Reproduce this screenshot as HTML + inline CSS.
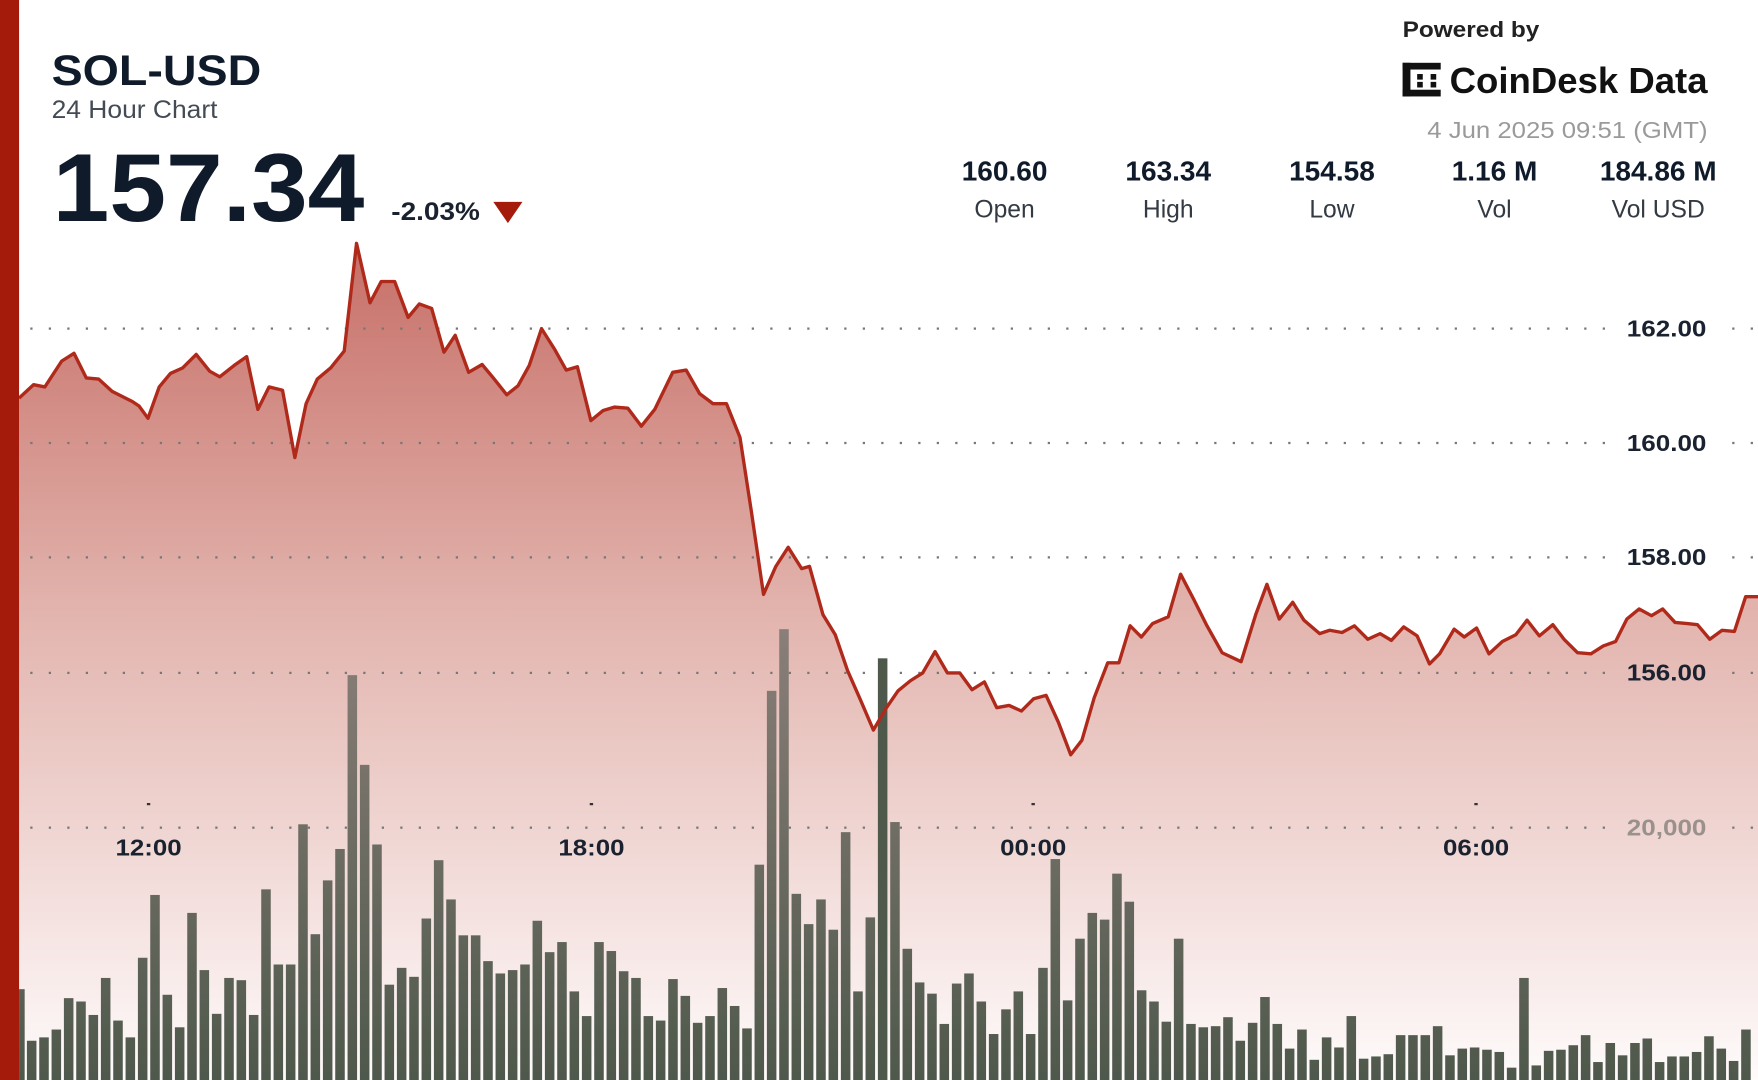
<!DOCTYPE html>
<html><head><meta charset="utf-8"><style>
html,body{margin:0;padding:0;background:#fff;}
svg{display:block}
text{font-family:"Liberation Sans",sans-serif;}
</style></head><body>
<svg id="c" width="1758" height="1080" viewBox="0 0 1568 963" preserveAspectRatio="none" xmlns="http://www.w3.org/2000/svg">
<defs>
<linearGradient id="fg" x1="0" y1="217" x2="0" y2="963" gradientUnits="userSpaceOnUse">
<stop offset="0" stop-color="#c66f67"/>
<stop offset="0.45" stop-color="#e3b5af"/>
<stop offset="1" stop-color="#fefbfb"/>
</linearGradient>
<linearGradient id="bg" x1="0" y1="560" x2="0" y2="963" gradientUnits="userSpaceOnUse">
<stop offset="0" stop-color="#8a7f79"/>
<stop offset="1" stop-color="#4e584b"/>
</linearGradient>
</defs>
<rect x="0" y="0" width="1568" height="963" fill="#fff"/>
<path id="area" fill="url(#fg)"/>
<g id="grid"></g>
<g id="bars"></g>
<path id="line" fill="none" stroke="#b02a1b" stroke-width="3" stroke-linejoin="round"/>
<rect x="0" y="0" width="17" height="963" fill="#a51b0b"/>

<text x="46" y="76" font-size="38" font-weight="bold" fill="#0f1a2a" textLength="187" lengthAdjust="spacingAndGlyphs">SOL-USD</text>
<text x="46" y="105" font-size="22" fill="#444b55" textLength="148" lengthAdjust="spacingAndGlyphs">24 Hour Chart</text>
<text x="47" y="197" font-size="86" font-weight="bold" fill="#0f1a2a" textLength="278" lengthAdjust="spacingAndGlyphs">157.34</text>
<text x="349" y="196" font-size="22" font-weight="bold" fill="#1a2230" textLength="79" lengthAdjust="spacingAndGlyphs">-2.03%</text>
<polygon points="440,180 466,180 453,199" fill="#a51b0b"/>

<g font-size="25" font-weight="bold" fill="#0f1a2a" text-anchor="middle">
<text x="896" y="161">160.60</text><text x="1042" y="161">163.34</text><text x="1188" y="161">154.58</text><text x="1333" y="161">1.16 M</text><text x="1479" y="161">184.86 M</text>
</g>
<g font-size="22" fill="#333a44" text-anchor="middle">
<text x="896" y="194">Open</text><text x="1042" y="194">High</text><text x="1188" y="194">Low</text><text x="1333" y="194">Vol</text><text x="1479" y="194">Vol USD</text>
</g>
<text x="1251" y="33" font-size="20" font-weight="bold" fill="#222" textLength="122" lengthAdjust="spacingAndGlyphs">Powered by</text>
<g fill="#111">
<rect x="1251" y="56" width="7" height="30"/><rect x="1251" y="56" width="34" height="6"/><rect x="1251" y="80" width="34" height="6"/>
<rect x="1264" y="66" width="5" height="5"/><rect x="1264" y="73" width="5" height="5"/><rect x="1276" y="66" width="5" height="5"/><rect x="1276" y="73" width="5" height="5"/>
</g>
<text x="1293" y="83" font-size="32" font-weight="bold" fill="#111" textLength="230" lengthAdjust="spacingAndGlyphs">CoinDesk Data</text>
<text x="1273" y="123" font-size="21" fill="#9a9a9a" textLength="250" lengthAdjust="spacingAndGlyphs">4 Jun 2025 09:51 (GMT)</text>

<g font-size="21" font-weight="bold" fill="#1a2230">
<text x="1451" y="300" textLength="71" lengthAdjust="spacingAndGlyphs">162.00</text><text x="1451" y="402" textLength="71" lengthAdjust="spacingAndGlyphs">160.00</text><text x="1451" y="504" textLength="71" lengthAdjust="spacingAndGlyphs">158.00</text><text x="1451" y="607" textLength="71" lengthAdjust="spacingAndGlyphs">156.00</text>
</g>
<text x="1451" y="745" font-size="21" font-weight="bold" fill="#9a918d" textLength="71" lengthAdjust="spacingAndGlyphs">20,000</text>
<g font-size="21" font-weight="bold" fill="#1a2230">
<text x="103" y="763" textLength="59" lengthAdjust="spacingAndGlyphs">12:00</text><text x="498" y="763" textLength="59" lengthAdjust="spacingAndGlyphs">18:00</text><text x="892" y="763" textLength="59" lengthAdjust="spacingAndGlyphs">00:00</text><text x="1287" y="763" textLength="59" lengthAdjust="spacingAndGlyphs">06:00</text>
</g>
<g fill="#333"><rect x="131" y="716" width="3" height="2"/><rect x="526" y="716" width="3" height="2"/><rect x="920" y="716" width="3" height="2"/><rect x="1315" y="716" width="3" height="2"/></g>
</svg>
<script>
var NS="http://www.w3.org/2000/svg";
var pts=[[17,355],[30,343],[40,345],[55,322],[66,315],[77,337],[88,338],[100,349],[118,358],[124,362],[132,373],[142,345],[152,333],[163,328],[175,316],[187,331],[196,336],[210,325],[220,318],[230,365],[240,345],[252,348],[263,408],[273,360],[283,338],[295,328],[307,313],[318,217],[330,270],[340,251],[352,251],[364,283],[374,271],[385,275],[396,314],[406,299],[418,332],[430,325],[440,337],[452,352],[462,344],[472,326],[483,293],[495,312],[505,330],[515,327],[527,375],[538,366],[548,363],[560,364],[572,380],[584,365],[600,332],[612,330],[624,351],[636,360],[648,360],[660,390],[670,455],[681,530],[692,505],[703,488],[715,507],[722,505],[734,548],[745,566],[756,598],[767,623],[779,651],[790,632],[801,616],[812,607],[823,600],[834,581],[845,600],[856,600],[867,615],[878,608],[889,631],[900,629],[911,634],[922,623],[933,620],[944,644],[955,673],[965,660],[976,622],[988,591],[998,591],[1008,558],[1018,568],[1028,556],[1042,550],[1053,512],[1065,535],[1076,557],[1090,582],[1107,590],[1120,548],[1130,521],[1141,552],[1153,537],[1163,553],[1177,565],[1186,562],[1197,564],[1208,558],[1220,570],[1231,565],[1241,571],[1252,559],[1264,567],[1275,592],[1284,583],[1297,561],[1306,568],[1317,560],[1328,583],[1340,572],[1352,566],[1362,553],[1373,567],[1385,557],[1395,570],[1407,582],[1419,583],[1430,576],[1441,572],[1451,552],[1462,543],[1473,549],[1483,543],[1494,555],[1505,556],[1514,557],[1525,570],[1536,562],[1547,563],[1557,532],[1568,532]];
var d="M"+pts.map(function(p){return p[0]+","+p[1]}).join(" L");
document.getElementById("line").setAttribute("d",d);
document.getElementById("area").setAttribute("d",d+" L1568,963 L17,963 Z");
var g=document.getElementById("grid");
[293,395,497,600,738].forEach(function(y){
 for(var x=27;x<1568;x+=16.5){ if(x>1440 && x<1530) continue;
  var r=document.createElementNS(NS,"rect");r.setAttribute("x",x);r.setAttribute("y",y-1);r.setAttribute("width",2);r.setAttribute("height",2);r.setAttribute("fill","#777");g.appendChild(r);}
});
var tops=[882,928,925,918,890,893,905,872,910,925,854,798,887,916,814,865,904,872,874,905,793,860,860,735,833,785,757,602,682,753,878,863,871,819,767,802,834,834,857,868,865,860,821,849,840,884,906,840,848,866,872,906,910,873,888,912,906,881,897,917,771,616,561,797,824,802,829,742,884,818,587,733,846,876,886,913,877,868,893,922,900,884,922,863,766,892,837,814,820,779,804,883,893,911,837,913,916,915,907,928,912,889,913,935,918,945,925,934,906,944,942,940,923,923,923,915,941,935,934,936,938,952,872,950,937,936,932,923,947,930,941,930,926,947,942,942,938,924,935,946,918];
var b=document.getElementById("bars");
tops.forEach(function(t,i){
 var x=i==0?17:13+i*11;
 var r=document.createElementNS(NS,"rect");r.setAttribute("x",x);r.setAttribute("y",t);r.setAttribute("width",i==0?5:8.5);r.setAttribute("height",963-t);
 r.setAttribute("fill",i==70?"#4e584b":"url(#bg)");b.appendChild(r);
});
</script>
</body></html>
